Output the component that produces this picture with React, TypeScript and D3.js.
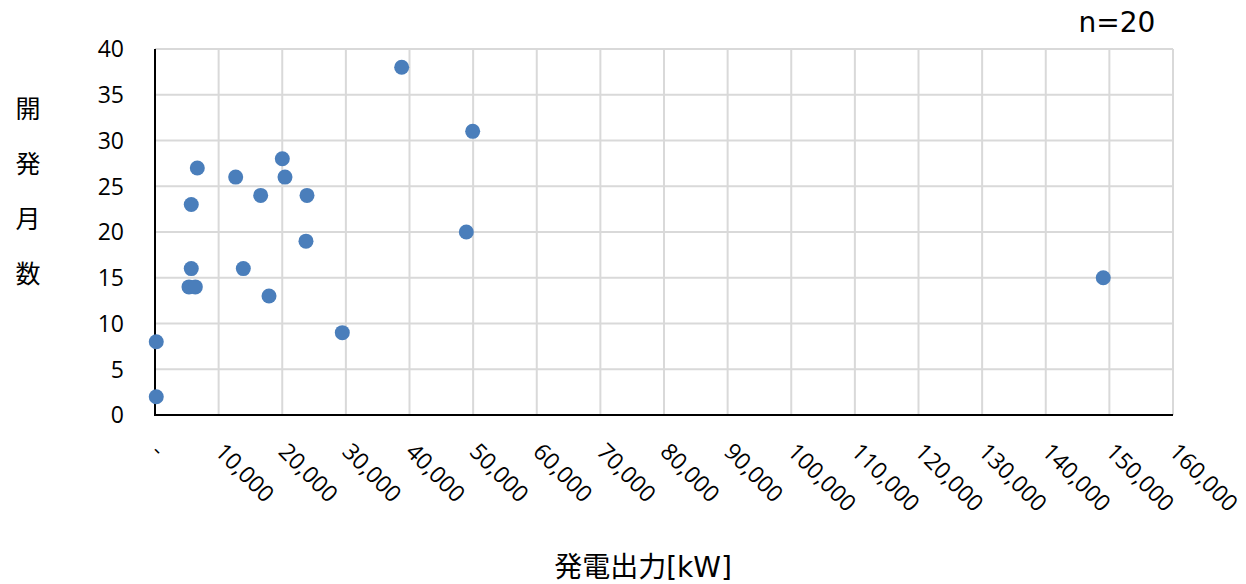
import React from "react";
import * as d3 from "d3";

const W = 1246;
const H = 584;

// 発電出力[kW] values
const outputKW = [
  200, 200, 5700, 5700, 5340, 6340, 6650, 12680, 13880, 16610,
  17920, 20010, 20430, 23890, 23730, 29440, 38770, 49930, 48930, 149040,
];
// 開発月数 values
const devMonths = [
  8, 2, 23, 16, 14, 14, 27, 26, 16, 24,
  13, 28, 26, 24, 19, 9, 38, 31, 20, 15,
];

const xTicks = d3.range(0, 160001, 10000);
const yTicks = d3.range(0, 41, 5);
const yTitleChars = ["開", "発", "月", "数"];
const xTitle = "発電出力[kW]";
const nLabel = "n=20";

const FONT = "'DejaVu Sans', 'Noto Sans CJK JP', sans-serif";
const TICK = "'Open Sans', sans-serif";
const CJK = "'Noto Sans CJK JP', sans-serif";

export default function App() {
  const left = 155, right = 1173, top = 49, bottom = 415;
  const x = d3.scaleLinear().domain([0, 160000]).range([left, right]);
  const y = d3.scaleLinear().domain([0, 40]).range([bottom, top]);
  const fmt = d3.format(",");

  return (
    <svg width={W} height={H} style={{ position: "absolute", left: 0, top: 0 }}>
      <rect width={W} height={H} fill="#fff" />
      {/* grid */}
      {xTicks.slice(1).map((t) => (
        <line key={"gx" + t} x1={x(t)} x2={x(t)} y1={top} y2={bottom} stroke="#d9d9d9" strokeWidth={2} />
      ))}
      {yTicks.slice(1).map((t) => (
        <line key={"gy" + t} x1={left} x2={right} y1={y(t)} y2={y(t)} stroke="#d9d9d9" strokeWidth={2} />
      ))}
      {/* axes */}
      <line x1={left} x2={left} y1={top} y2={bottom + 1} stroke="#000" strokeWidth={2} />
      <line x1={left - 1} x2={right} y1={bottom} y2={bottom} stroke="#000" strokeWidth={2} />
      {/* y tick labels */}
      {yTicks.map((t) => (
        <text key={"yl" + t} x={124} y={y(t)} dy="0.36em" textAnchor="end" fontSize={23} fontFamily={TICK} fill="#000">
          {t}
        </text>
      ))}
      {/* x tick labels */}
      {xTicks.map((t) => (
        <text
          key={"xl" + t}
          transform={`translate(${x(t) - 5},${453}) rotate(45)`}
          textAnchor="start"
          fontSize={23}
          fontFamily={TICK}
          fill="#000"
        >
          {t === 0 ? "-" : fmt(t)}
        </text>
      ))}
      {/* points */}
      {outputKW.map((v, i) => (
        <circle key={"p" + i} cx={x(v)} cy={y(devMonths[i])} r={7.5} fill="#4a7ebb" />
      ))}
      {/* y title */}
      {yTitleChars.map((c, i) => (
        <text key={"yt" + i} x={28} y={109 + i * 55} dy="0.36em" textAnchor="middle" fontSize={25} fontFamily={CJK} fill="#000">
          {c}
        </text>
      ))}
      {/* x title */}
      <text x={643} y={567} dy="0.36em" textAnchor="middle" fontSize={28} fontFamily={FONT} fill="#000">
        {xTitle}
      </text>
      <text x={1117} y={22} dy="0.36em" textAnchor="middle" fontSize={28} fontFamily={FONT} fill="#000">
        {nLabel}
      </text>
    </svg>
  );
}
